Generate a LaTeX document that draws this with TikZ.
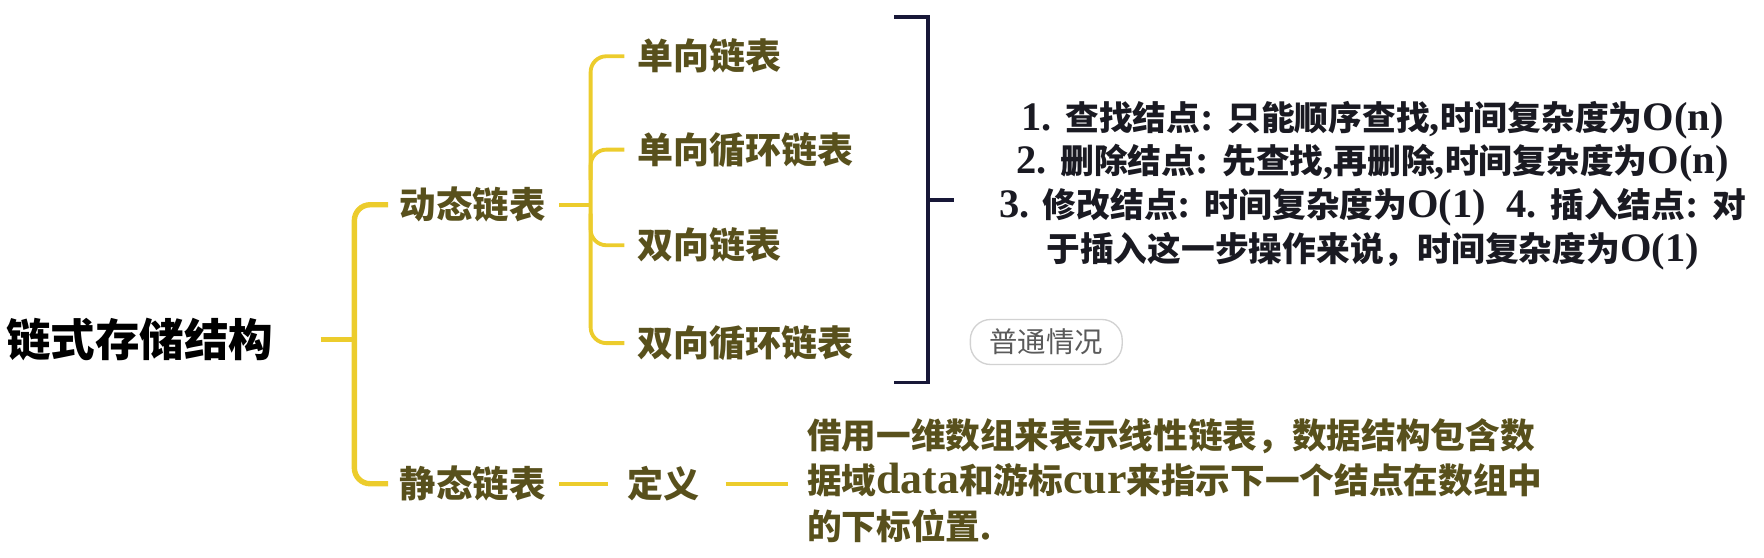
\documentclass[tikz,border=0pt]{standalone}
\usepackage{fontspec}
\setmainfont{Liberation Serif}
\newfontfamily\cjk{Noto Sans CJK SC}
\newfontfamily\lat{Liberation Serif}
\newcommand{\nl}[1]{{\lat\fontsize{18}{19.5}\selectfont #1}}
\newcommand{\dl}[1]{{\lat\fontsize{19.5}{20.3}\selectfont #1}}
\definecolor{ylw}{RGB}{236,204,44}
\definecolor{txtol}{RGB}{88,80,28}
\definecolor{brk}{RGB}{24,24,56}
\definecolor{notec}{RGB}{26,26,34}
\definecolor{tagc}{RGB}{90,90,90}
\begin{document}
\begin{tikzpicture}[x=0.5pt,y=-0.5pt,
  yl/.style={draw=ylw, line width=2.4pt},
  ylt/.style={draw=ylw, line width=1.7pt},
  br/.style={draw=brk, line width=1.6pt},
  lvone/.style={font=\cjk\bfseries\fontsize{16.2}{20}\selectfont, text=txtol, inner sep=0, anchor=west},
  lvtwo/.style={font=\cjk\bfseries\fontsize{16}{20}\selectfont, text=txtol, inner sep=0, anchor=west}]
\useasboundingbox (0,0) rectangle (1568,496);
% root
\node[font=\cjk\bfseries\fontsize{19.8}{24}\selectfont, inner sep=0, anchor=west] (root) at (5,302) {链式存储结构};
% level 1
\node[lvone] (dyn) at (355,182) {动态链表};
\node[lvone] (sta) at (355,430) {静态链表};
% level 2
\node[lvtwo] (s1) at (566,50) {单向链表};
\node[lvtwo] (s2) at (566,133) {单向循环链表};
\node[lvtwo] (s3) at (566,218) {双向链表};
\node[lvtwo] (s4) at (566,305) {双向循环链表};
\node[lvtwo] (def) at (557,430) {定义};
% connectors root -> level 1
\coordinate (r0) at (285,302);
\coordinate (r1) at (315,302);
\draw[yl] (r0) -- (r1);
\draw[yl, rounded corners=7pt] (345,182) -- (315,182) -- (315,430) -- (345,430);
% dyn -> level 2
\coordinate (d0) at (497,182);
\coordinate (d1) at (525,182);
\draw[ylt] (d0) -- (d1);
\draw[ylt, rounded corners=7pt] (555,50) -- (525,50) -- (525,305) -- (555,305);
\draw[ylt, rounded corners=7pt] (555,133) -- (525,133) -- (525,160);
\draw[ylt, rounded corners=7pt] (555,218) -- (525,218) -- (525,190);
% sta -> def -> text
\coordinate (t0) at (497,430);
\coordinate (t1) at (540,430);
\draw[ylt] (t0) -- (t1);
\coordinate (u0) at (645,430);
\coordinate (u1) at (700,430);
\draw[ylt] (u0) -- (u1);
\node[font=\cjk\bfseries\fontsize{15.4}{20.3}\selectfont, text=txtol, inner sep=0, anchor=west, align=left] (deftext) at (717,427)
{借用一维数组来表示线性链表，数据结构包含数\\
据域\dl{data}和游标\dl{cur}来指示下一个结点在数组中\\
的下标位置\dl{.}};
% navy bracket
\coordinate (b0) at (825,178);
\coordinate (b1) at (848,178);
\draw[br] (795,15) -- (825,15) -- (825,340) -- (795,340);
\draw[br] (b0) -- (b1);
% notes
\node[font=\cjk\bfseries\fontsize{15}{19.5}\selectfont, text=notec, inner sep=0, align=center] (notes) at (1220,165)
{\nl{1. }查找结点\nl{: }只能顺序查找\nl{,}时间复杂度为\nl{O(n)}\\
\nl{2. }删除结点\nl{: }先查找\nl{,}再删除\nl{,}时间复杂度为\nl{O(n)}\\
\nl{3. }修改结点\nl{: }时间复杂度为\nl{O(1)\ \ 4. }插入结点\nl{: }对\\
于插入这一步操作来说，时间复杂度为\nl{O(1)}};
% tag
\node[draw=gray!35, line width=0.6pt, rounded corners=9pt, minimum width=67.5pt, minimum height=20pt, inner sep=0,
  font=\cjk\fontsize{12.6}{15}\selectfont, text=tagc] (tag) at (930,304) {普通情况};
\end{tikzpicture}
\end{document}
